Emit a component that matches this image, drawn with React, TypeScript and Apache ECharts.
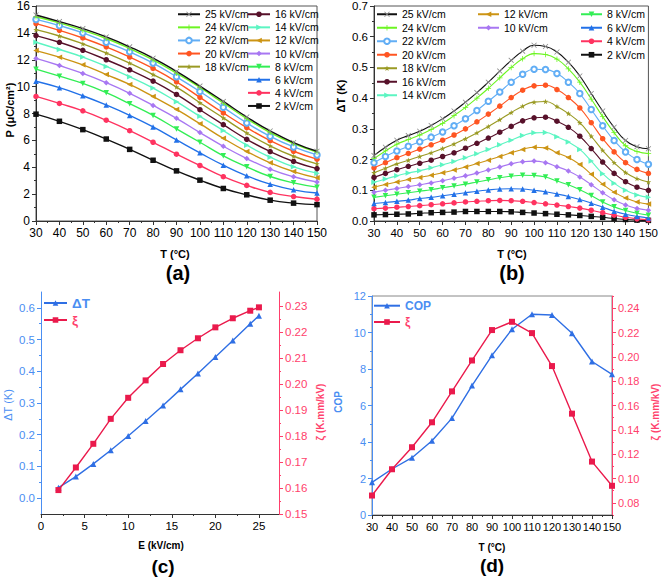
import React, { useEffect, useRef } from 'react';
import * as echarts from 'echarts';

// ---------- DATA ----------
const FIELDS = ['25 kV/cm', '24 kV/cm', '22 kV/cm', '20 kV/cm', '18 kV/cm', '16 kV/cm', '14 kV/cm', '12 kV/cm', '10 kV/cm', '8 kV/cm', '6 kV/cm', '4 kV/cm', '2 kV/cm'];

// (a) polarization vs temperature
const T_A = [30, 40, 50, 60, 70, 80, 90, 100, 110, 120, 130, 140, 150];
const P_E25 = [15.33, 14.84, 14.32, 13.7, 12.96, 12.12, 11.13, 10.04, 8.9, 7.74, 6.7, 5.84, 5.19];
const P_E24 = [15.2, 14.74, 14.19, 13.58, 12.83, 11.99, 11.0, 9.94, 8.78, 7.62, 6.58, 5.76, 5.12];
const P_E22 = [15.0, 14.54, 14.0, 13.3, 12.59, 11.75, 10.73, 9.64, 8.46, 7.3, 6.3, 5.51, 4.92];
const P_E20 = [14.69, 14.19, 13.62, 12.96, 12.2, 11.35, 10.36, 9.2, 8.04, 6.95, 5.98, 5.19, 4.6];
const P_E18 = [14.24, 13.77, 13.18, 12.5, 11.75, 10.9, 9.97, 8.8, 7.67, 6.55, 5.59, 4.82, 4.25];
const P_E16 = [13.8, 13.3, 12.7, 12.0, 11.25, 10.41, 9.42, 8.28, 7.17, 6.08, 5.17, 4.43, 3.9];
const P_E14 = [13.3, 12.76, 12.2, 11.5, 10.73, 9.89, 8.88, 7.79, 6.73, 5.64, 4.75, 4.03, 3.56];
const P_E12 = [12.68, 12.19, 11.62, 10.9, 10.16, 9.27, 8.3, 7.24, 6.15, 5.17, 4.33, 3.68, 3.21];
const P_E10 = [12.1, 11.57, 10.98, 10.29, 9.5, 8.6, 7.64, 6.58, 5.56, 4.65, 3.86, 3.29, 2.9];
const P_E8 = [11.3, 10.78, 10.24, 9.55, 8.73, 7.86, 6.85, 5.86, 4.85, 4.03, 3.31, 2.84, 2.52];
const P_E6 = [10.4, 9.92, 9.32, 8.63, 7.86, 7.0, 6.03, 5.07, 4.15, 3.36, 2.74, 2.32, 2.08];
const P_E4 = [9.27, 8.75, 8.2, 7.5, 6.72, 5.86, 4.97, 4.13, 3.3, 2.65, 2.13, 1.82, 1.62];
const P_E2 = [7.95, 7.42, 6.8, 6.1, 5.33, 4.52, 3.73, 3.04, 2.42, 1.95, 1.55, 1.33, 1.22];
const P_ALL = [P_E25, P_E24, P_E22, P_E20, P_E18, P_E16, P_E14, P_E12, P_E10, P_E8, P_E6, P_E4, P_E2];

// (b) ΔT vs temperature
const T_B = [30, 35, 40, 45, 50, 55, 60, 65, 70, 75, 80, 85, 90, 95, 100, 105, 110, 115, 120, 125, 130, 135, 140, 145, 150];
const DT_E25 = [0.213, 0.24, 0.263, 0.278, 0.292, 0.311, 0.333, 0.358, 0.387, 0.418, 0.452, 0.488, 0.523, 0.553, 0.572, 0.568, 0.55, 0.517, 0.472, 0.415, 0.358, 0.305, 0.262, 0.242, 0.235];
const DT_E24 = [0.203, 0.228, 0.25, 0.265, 0.28, 0.298, 0.318, 0.343, 0.37, 0.4, 0.432, 0.466, 0.5, 0.528, 0.545, 0.542, 0.527, 0.495, 0.452, 0.397, 0.34, 0.288, 0.245, 0.226, 0.22];
const DT_E22 = [0.19, 0.21, 0.228, 0.243, 0.258, 0.273, 0.29, 0.31, 0.333, 0.36, 0.39, 0.42, 0.452, 0.478, 0.494, 0.493, 0.48, 0.452, 0.415, 0.363, 0.31, 0.262, 0.225, 0.2, 0.185];
const DT_E20 = [0.173, 0.19, 0.206, 0.22, 0.234, 0.248, 0.263, 0.28, 0.3, 0.323, 0.348, 0.374, 0.402, 0.426, 0.44, 0.442, 0.428, 0.402, 0.368, 0.32, 0.268, 0.225, 0.19, 0.168, 0.155];
const DT_E18 = [0.157, 0.172, 0.186, 0.198, 0.21, 0.222, 0.236, 0.251, 0.268, 0.287, 0.308, 0.33, 0.353, 0.374, 0.387, 0.389, 0.373, 0.35, 0.32, 0.276, 0.23, 0.19, 0.158, 0.138, 0.127];
const DT_E16 = [0.142, 0.155, 0.167, 0.178, 0.188, 0.198, 0.21, 0.222, 0.237, 0.253, 0.27, 0.289, 0.308, 0.326, 0.336, 0.338, 0.325, 0.305, 0.276, 0.236, 0.192, 0.155, 0.128, 0.11, 0.1];
const DT_E14 = [0.126, 0.137, 0.147, 0.156, 0.164, 0.173, 0.183, 0.194, 0.206, 0.219, 0.233, 0.248, 0.263, 0.278, 0.287, 0.288, 0.274, 0.257, 0.233, 0.195, 0.154, 0.123, 0.1, 0.085, 0.077];
const DT_E12 = [0.11, 0.119, 0.127, 0.135, 0.142, 0.149, 0.157, 0.166, 0.176, 0.187, 0.198, 0.21, 0.222, 0.233, 0.24, 0.238, 0.222, 0.207, 0.184, 0.152, 0.12, 0.094, 0.075, 0.062, 0.055];
const DT_E10 = [0.094, 0.1, 0.106, 0.112, 0.118, 0.124, 0.131, 0.139, 0.147, 0.156, 0.166, 0.176, 0.186, 0.193, 0.195, 0.19, 0.177, 0.163, 0.143, 0.118, 0.092, 0.069, 0.052, 0.041, 0.035];
const DT_E8 = [0.077, 0.082, 0.087, 0.092, 0.097, 0.102, 0.108, 0.114, 0.12, 0.127, 0.134, 0.141, 0.146, 0.149, 0.148, 0.143, 0.13, 0.118, 0.102, 0.083, 0.062, 0.046, 0.034, 0.025, 0.019];
const DT_E6 = [0.057, 0.06, 0.064, 0.068, 0.073, 0.077, 0.082, 0.087, 0.092, 0.097, 0.101, 0.104, 0.105, 0.104, 0.1, 0.095, 0.088, 0.08, 0.07, 0.058, 0.045, 0.032, 0.022, 0.015, 0.01];
const DT_E4 = [0.04, 0.042, 0.045, 0.047, 0.05, 0.053, 0.056, 0.059, 0.062, 0.064, 0.066, 0.067, 0.066, 0.064, 0.06, 0.056, 0.052, 0.047, 0.042, 0.035, 0.027, 0.019, 0.012, 0.007, 0.004];
const DT_E2 = [0.02, 0.021, 0.022, 0.023, 0.025, 0.027, 0.028, 0.029, 0.031, 0.031, 0.031, 0.031, 0.03, 0.028, 0.026, 0.024, 0.022, 0.02, 0.018, 0.015, 0.012, 0.008, 0.005, 0.003, 0.002];
const DT_ALL = [DT_E25, DT_E24, DT_E22, DT_E20, DT_E18, DT_E16, DT_E14, DT_E12, DT_E10, DT_E8, DT_E6, DT_E4, DT_E2];

// (c) ΔT and ξ vs field
const E_C = [2, 4, 6, 8, 10, 12, 14, 16, 18, 20, 22, 24, 25];
const DT_C = [0.033, 0.068, 0.108, 0.151, 0.196, 0.243, 0.292, 0.343, 0.393, 0.445, 0.497, 0.55, 0.575];
const XI_C = [0.1592, 0.1679, 0.177, 0.1866, 0.1947, 0.2014, 0.2077, 0.213, 0.2176, 0.2218, 0.2253, 0.2282, 0.2295];

// (d) COP and ξ vs temperature
const T_D = [30, 40, 50, 60, 70, 80, 90, 100, 110, 120, 130, 140, 150];
const COP_D = [1.79, 2.52, 3.14, 4.07, 5.31, 7.09, 8.75, 10.18, 11.0, 10.96, 9.96, 8.41, 7.71];
const XI_D = [0.086, 0.1076, 0.1257, 0.1462, 0.1716, 0.197, 0.222, 0.2288, 0.2195, 0.1924, 0.1533, 0.1139, 0.094];

// tick label lists
const TICKS_C_X = [0, 5, 10, 15, 20, 25];
const MINOR_C_X = [2.5, 7.5, 12.5, 17.5, 22.5];
const TICKS_C_L = [0, 0.1, 0.2, 0.3, 0.4, 0.5, 0.6];
const MINOR_C_L = [0.05, 0.15, 0.25, 0.35, 0.45, 0.55];
const TICKS_C_R = [0.15, 0.16, 0.17, 0.18, 0.19, 0.2, 0.21, 0.22, 0.23];
const MINOR_C_R = [0.155, 0.165, 0.175, 0.185, 0.195, 0.205, 0.215, 0.225];
const TICKS_D_R = [0.08, 0.1, 0.12, 0.14, 0.16, 0.18, 0.2, 0.22, 0.24];
const MINOR_D_R = [0.07, 0.09, 0.11, 0.13, 0.15, 0.17, 0.19, 0.21, 0.23, 0.25];

// ---------- STYLES ----------
const FONT = '"Liberation Sans", Arial, Helvetica, sans-serif';
const AXC = '#333';
const BLUE = '#2f6fe4';
const BLUE_AX = '#4a8ef2';
const RED = '#ea1a4c';
const RED_AX = '#ff3f6c';

const SYM_X = 'path://M1,0 L5,4 L9,0 L10,1 L6,5 L10,9 L9,10 L5,6 L1,10 L0,9 L4,5 L0,1 Z';
const SYM_PLUS = 'path://M4.3,0 L5.7,0 L5.7,4.3 L10,4.3 L10,5.7 L5.7,5.7 L5.7,10 L4.3,10 L4.3,5.7 L0,5.7 L0,4.3 L4.3,4.3 Z';
const SYM_STAR = 'path://M5,0 L6.2,3.6 L10,3.6 L6.9,5.9 L8.1,9.5 L5,7.3 L1.9,9.5 L3.1,5.9 L0,3.6 L3.8,3.6 Z';

const STYLES = [
  { line: '#111111', mark: '#8a8a8a', symbol: SYM_X, rot: 0 },
  { line: '#6cf522', mark: '#6cf522', symbol: SYM_PLUS, rot: 0 },
  { line: '#62aef5', mark: '#62aef5', symbol: 'emptyCircle', rot: 0 },
  { line: '#ff5522', mark: '#ff5522', symbol: 'circle', rot: 0 },
  { line: '#9a9a24', mark: '#9a9a24', symbol: SYM_STAR, rot: 0 },
  { line: '#57112a', mark: '#57112a', symbol: 'circle', rot: 0 },
  { line: '#5cf5c2', mark: '#5cf5c2', symbol: 'triangle', rot: -90 },
  { line: '#cc9414', mark: '#cc9414', symbol: 'triangle', rot: 90 },
  { line: '#a877f2', mark: '#a877f2', symbol: 'diamond', rot: 0 },
  { line: '#33ee55', mark: '#33ee55', symbol: 'triangle', rot: 180 },
  { line: '#2271e8', mark: '#2271e8', symbol: 'triangle', rot: 0 },
  { line: '#ff3360', mark: '#ff3360', symbol: 'circle', rot: 0 },
  { line: '#111111', mark: '#111111', symbol: 'rect', rot: 0 },
];

function valAxis(o: any) {
  const color = o.color || AXC;
  const ax: any = {
    type: 'value',
    gridIndex: o.grid,
    min: o.min,
    max: o.max,
    position: o.pos,
    splitLine: { show: false },
    axisLine: { show: o.showLine !== false, onZero: false, lineStyle: { color, width: 1 } },
    axisTick: { show: true, inside: false, length: o.tickLen || 4, lineStyle: { color } },
    minorTick: { show: o.minor !== false, splitNumber: 2, length: 2, lineStyle: { color } },
    axisLabel: {
      show: o.showLabel !== false,
      color: o.labelColor || '#000',
      fontSize: o.fontSize || 12,
      fontFamily: FONT,
      margin: o.margin != null ? o.margin : 6,
      showMaxLabel: o.showMax !== false,
    },
  };
  if (o.fmt) ax.axisLabel.formatter = o.fmt;
  if (o.interval != null) ax.interval = o.interval;
  if (o.labelVals) ax.axisLabel.customValues = o.labelVals;
  if (o.tickVals) ax.axisTick.customValues = o.tickVals;
  return ax;
}

const stripPrefix = (n: string) => n.replace(/^[a-z]:/, '');

function text(t: string, x: number, y: number, size: number, opts: any = {}) {
  return {
    type: 'text',
    x,
    y,
    rotation: opts.rot || 0,
    style: {
      text: t,
      fill: opts.color || '#000',
      font: `${opts.bold === false ? 'normal' : 'bold'} ${size}px ${FONT}`,
      textAlign: 'center',
      textVerticalAlign: 'middle',
      align: 'center',
      verticalAlign: 'middle',
    },
  };
}

export default function App() {
  const ref = useRef<HTMLDivElement>(null);

  useEffect(() => {
    if (!ref.current) return;
    const chart = echarts.init(ref.current, undefined, { renderer: 'svg' });

    const series: any[] = [];
    FIELDS.forEach((name, i) => {
      const s = STYLES[i];
      series.push({
        type: 'line',
        name,
        xAxisIndex: 0,
        yAxisIndex: 0,
        smooth: true,
        data: T_A.map((t, j) => [t, P_ALL[i][j]]),
        symbol: s.symbol,
        symbolRotate: s.rot,
        symbolSize: 5.5,
        lineStyle: { color: s.line, width: 1.4 },
        itemStyle: { color: s.mark },
        z: 20 - i,
      });
    });
    FIELDS.forEach((name, i) => {
      const s = STYLES[i];
      series.push({
        type: 'line',
        name: 'b:' + name,
        xAxisIndex: 1,
        yAxisIndex: 1,
        smooth: true,
        data: T_B.map((t, j) => [t, DT_ALL[i][j]]),
        symbol: s.symbol,
        symbolRotate: s.rot,
        symbolSize: 5.5,
        lineStyle: { color: s.line, width: 1.1 },
        itemStyle: { color: s.mark },
        z: 20 - i,
      });
    });
    series.push({
      type: 'line', name: 'ΔT', xAxisIndex: 2, yAxisIndex: 2,
      data: E_C.map((e, j) => [e, DT_C[j]]),
      symbol: 'triangle', symbolSize: 6,
      lineStyle: { color: BLUE, width: 1.4 }, itemStyle: { color: BLUE },
    });
    series.push({
      type: 'line', name: 'ξ', xAxisIndex: 2, yAxisIndex: 3,
      data: E_C.map((e, j) => [e, XI_C[j]]),
      symbol: 'rect', symbolSize: 6,
      lineStyle: { color: RED, width: 1.4 }, itemStyle: { color: RED },
    });
    series.push({
      type: 'line', name: 'COP', xAxisIndex: 3, yAxisIndex: 6,
      data: T_D.map((t, j) => [t, COP_D[j]]),
      symbol: 'triangle', symbolSize: 6,
      lineStyle: { color: BLUE, width: 1.4 }, itemStyle: { color: BLUE },
    });
    series.push({
      type: 'line', name: 'd:ξ', xAxisIndex: 3, yAxisIndex: 7,
      data: T_D.map((t, j) => [t, XI_D[j]]),
      symbol: 'rect', symbolSize: 6,
      lineStyle: { color: RED, width: 1.4 }, itemStyle: { color: RED },
    });

    const legBase = (left: number, top: number, names: string[], gap: number, fs: number, iw: number) => ({
      orient: 'vertical',
      left,
      top,
      padding: 0,
      itemGap: gap,
      itemWidth: iw,
      itemHeight: 7,
      selectedMode: false,
      data: names,
      formatter: stripPrefix,
      textStyle: { fontSize: fs, fontFamily: FONT, color: '#000' },
    });

    const option: any = {
      animation: false,
      backgroundColor: '#fff',
      grid: [
        { left: 36, top: 5, width: 281, height: 216, show: true, borderColor: '#555', borderWidth: 1 },
        { left: 374, top: 6, width: 277, height: 215, show: true, borderColor: '#555', borderWidth: 1 },
        { left: 41, top: 292, width: 238, height: 222 },
        { left: 372, top: 296, width: 240, height: 219, show: true, borderColor: '#888', borderWidth: 1 },
      ],
      xAxis: [
        valAxis({ grid: 0, min: 30, max: 150, interval: 10, pos: 'bottom', fontSize: 12 }),
        valAxis({ grid: 1, min: 30, max: 150, interval: 10, pos: 'bottom', fontSize: 11.5 }),
        valAxis({ grid: 2, min: 0, max: 27.3, pos: 'bottom', labelVals: TICKS_C_X, tickVals: TICKS_C_X, minor: false, fontSize: 11.5 }),
        valAxis({ grid: 3, min: 30, max: 150, interval: 10, pos: 'bottom', fontSize: 11 }),
        valAxis({ grid: 2, min: 0, max: 27.3, pos: 'bottom', showLine: false, showLabel: false, tickVals: MINOR_C_X, tickLen: 2, minor: false }),
      ],
      yAxis: [
        valAxis({ grid: 0, min: 0, max: 16, interval: 2, pos: 'left', fontSize: 12 }),
        valAxis({ grid: 1, min: 0, max: 0.7, interval: 0.1, pos: 'left', fontSize: 11.5, fmt: (v: number) => v.toFixed(1) }),
        valAxis({ grid: 2, min: -0.05, max: 0.65, pos: 'left', labelVals: TICKS_C_L, tickVals: TICKS_C_L, minor: false, color: BLUE_AX, labelColor: BLUE_AX, fontSize: 11.5, fmt: (v: number) => v.toFixed(1) }),
        valAxis({ grid: 2, min: 0.15, max: 0.2354, pos: 'right', labelVals: TICKS_C_R, tickVals: TICKS_C_R, minor: false, color: RED_AX, labelColor: RED_AX, fontSize: 11.5, fmt: (v: number) => v.toFixed(2) }),
        valAxis({ grid: 2, min: -0.05, max: 0.65, pos: 'left', showLine: false, showLabel: false, tickVals: MINOR_C_L, tickLen: 2, minor: false, color: BLUE_AX }),
        valAxis({ grid: 2, min: 0.15, max: 0.2354, pos: 'right', showLine: false, showLabel: false, tickVals: MINOR_C_R, tickLen: 2, minor: false, color: RED_AX }),
        valAxis({ grid: 3, min: 0, max: 12, interval: 2, pos: 'left', color: BLUE_AX, labelColor: BLUE_AX, fontSize: 11 }),
        valAxis({ grid: 3, min: 0.07, max: 0.25, pos: 'right', labelVals: TICKS_D_R, tickVals: TICKS_D_R, minor: false, color: RED_AX, labelColor: RED_AX, fontSize: 11, fmt: (v: number) => v.toFixed(2) }),
        valAxis({ grid: 3, min: 0.07, max: 0.25, pos: 'right', showLine: false, showLabel: false, tickVals: MINOR_D_R, tickLen: 2, minor: false, color: RED_AX }),
      ],
      legend: [
        legBase(177, 8.75, FIELDS.slice(0, 5), 2.1, 10.5, 22),
        legBase(247, 8.75, FIELDS.slice(5), 2.1, 10.5, 22),
        legBase(376, 8.75, FIELDS.slice(0, 7).map((n) => 'b:' + n), 2.5, 10.5, 20),
        legBase(477, 8.75, FIELDS.slice(7, 9).map((n) => 'b:' + n), 2.5, 10.5, 21),
        legBase(580, 8.75, FIELDS.slice(9).map((n) => 'b:' + n), 2.5, 10.5, 21),
        {
          ...legBase(43, 296, [], 3, 13.5, 23),
          data: [
            { name: 'ΔT', textStyle: { color: BLUE_AX, fontWeight: 'bold', fontSize: 13.5 } },
            { name: 'ξ', textStyle: { color: RED_AX, fontWeight: 'bold', fontSize: 13.5 } },
          ],
        },
        {
          ...legBase(373, 299.7, [], 4.3, 12, 26),
          data: [
            { name: 'COP', textStyle: { color: BLUE_AX, fontWeight: 'bold', fontSize: 12 } },
            { name: 'd:ξ', textStyle: { color: RED_AX, fontWeight: 'bold', fontSize: 12 } },
          ],
        },
      ],
      graphic: [
        text('P (μC/cm²)', 10, 110, 11, { rot: Math.PI / 2 }),
        text('T (°C)', 175, 254, 11),
        text('(a)', 178, 273, 20),
        text('ΔT (K)', 341, 96, 11, { rot: Math.PI / 2 }),
        text('T (°C)', 512, 254, 11),
        text('(b)', 512, 273, 20),
        text('ΔT (K)', 8, 405, 11, { rot: Math.PI / 2, color: BLUE_AX, bold: false }),
        text('ζ (K.mm/kV)', 320.5, 412, 10, { rot: Math.PI / 2, color: RED_AX }),
        text('E (kV/cm)', 161, 545, 10),
        text('(c)', 163, 566, 19),
        text('COP', 338, 402, 10, { rot: Math.PI / 2, color: BLUE_AX }),
        text('ζ (K.mm/kV)', 655, 412, 10, { rot: Math.PI / 2, color: RED_AX }),
        text('T (°C)', 492, 547, 10),
        text('(d)', 492, 565, 19),
      ],
      series,
    };

    chart.setOption(option);
    return () => chart.dispose();
  }, []);

  return <div ref={ref} style={{ position: 'absolute', left: 0, top: 0, width: 661, height: 577, background: '#fff' }} />;
}
